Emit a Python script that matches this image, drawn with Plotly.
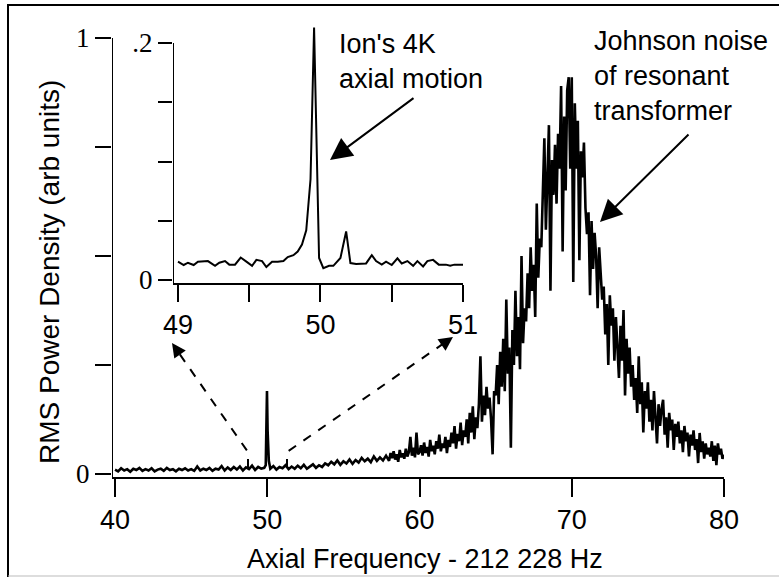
import plotly.graph_objects as go

# ---- main spectrum: low-frequency part (40 - 58 Hz) ----
lo_freq = [40.0, 40.2, 40.4, 40.6, 40.8, 41.0, 41.2, 41.4, 41.6, 41.8,
           42.0, 42.2, 42.4, 42.6, 42.8, 43.0, 43.2, 43.4, 43.6, 43.8,
           44.0, 44.2, 44.4, 44.6, 44.8, 45.0, 45.2, 45.4, 45.6, 45.8,
           46.0, 46.2, 46.4, 46.6, 46.8, 47.0, 47.2, 47.4, 47.6, 47.8,
           48.0, 48.2, 48.4, 48.6, 48.8, 49.0, 49.2, 49.4, 49.6, 49.8,
           49.9, 49.95, 49.98, 50.02, 50.06, 50.1, 50.2,
           50.4, 50.6, 50.8, 51.0, 51.2, 51.4, 51.6, 51.8,
           52.0, 52.2, 52.4, 52.6, 52.8, 53.0, 53.2, 53.4, 53.6, 53.8,
           54.0, 54.2, 54.4, 54.6, 54.8, 55.0, 55.2, 55.4, 55.6, 55.8,
           56.0, 56.2, 56.4, 56.6, 56.8, 57.0, 57.2, 57.4, 57.6, 57.8]
lo_rms = [0.010, 0.006, 0.013, 0.008, 0.011, 0.005, 0.012, 0.009, 0.014, 0.007,
          0.011, 0.008, 0.013, 0.006, 0.010, 0.012, 0.007, 0.014, 0.009, 0.011,
          0.006, 0.012, 0.009, 0.013, 0.008, 0.011, 0.007, 0.017, 0.008, 0.012,
          0.009, 0.014, 0.007, 0.012, 0.010, 0.018, 0.008, 0.015, 0.009, 0.016,
          0.010, 0.017, 0.008, 0.015, 0.011, 0.019, 0.009, 0.016, 0.012, 0.014,
          0.020, 0.090, 0.190, 0.100, 0.060, 0.030, 0.012,
          0.018, 0.010, 0.016, 0.013, 0.020, 0.011, 0.017, 0.012,
          0.019, 0.013, 0.021, 0.012, 0.018, 0.022, 0.014, 0.020, 0.016, 0.024,
          0.020, 0.028, 0.022, 0.031, 0.021, 0.029, 0.024, 0.033, 0.023, 0.032,
          0.026, 0.037, 0.029, 0.035, 0.027, 0.040, 0.030, 0.038, 0.031, 0.042]

# ---- main spectrum: resonance part (58 - 80 Hz) ----
hi_freq = [58.0, 58.1, 58.2, 58.3, 58.4, 58.5, 58.6, 58.7, 58.8, 58.9,
           59.0, 59.1, 59.2, 59.3, 59.4, 59.5, 59.6, 59.7, 59.8, 59.9,
           60.0, 60.1, 60.2, 60.3, 60.4, 60.5, 60.6, 60.7, 60.8, 60.9,
           61.0, 61.1, 61.2, 61.3, 61.4, 61.5, 61.6, 61.7, 61.8, 61.9,
           62.0, 62.1, 62.2, 62.3, 62.4, 62.5, 62.6, 62.7, 62.8, 62.9,
           63.0, 63.1, 63.2, 63.3, 63.4, 63.5, 63.6, 63.7, 63.8, 63.9,
           64.0, 64.1, 64.2, 64.3, 64.4, 64.5, 64.6, 64.7, 64.8, 64.9,
           65.0, 65.1, 65.2, 65.3, 65.4, 65.5, 65.6, 65.7, 65.8, 65.9,
           66.0, 66.1, 66.2, 66.3, 66.4, 66.5, 66.6, 66.7, 66.8, 66.9,
           67.0, 67.1, 67.2, 67.3, 67.4, 67.5, 67.6, 67.7, 67.8, 67.9,
           68.0, 68.1, 68.2, 68.3, 68.4, 68.5, 68.6, 68.7, 68.8, 68.9,
           69.0, 69.1, 69.2, 69.3, 69.4, 69.5, 69.6, 69.7, 69.8, 69.9,
           70.0, 70.1, 70.2, 70.3, 70.4, 70.5, 70.6, 70.7, 70.8, 70.9,
           71.0, 71.1, 71.2, 71.3, 71.4, 71.5, 71.6, 71.7, 71.8, 71.9,
           72.0, 72.1, 72.2, 72.3, 72.4, 72.5, 72.6, 72.7, 72.8, 72.9,
           73.0, 73.1, 73.2, 73.3, 73.4, 73.5, 73.6, 73.7, 73.8, 73.9,
           74.0, 74.1, 74.2, 74.3, 74.4, 74.5, 74.6, 74.7, 74.8, 74.9,
           75.0, 75.1, 75.2, 75.3, 75.4, 75.5, 75.6, 75.7, 75.8, 75.9,
           76.0, 76.1, 76.2, 76.3, 76.4, 76.5, 76.6, 76.7, 76.8, 76.9,
           77.0, 77.1, 77.2, 77.3, 77.4, 77.5, 77.6, 77.7, 77.8, 77.9,
           78.0, 78.1, 78.2, 78.3, 78.4, 78.5, 78.6, 78.7, 78.8, 78.9,
           79.0, 79.1, 79.2, 79.3, 79.4, 79.5, 79.6, 79.7, 79.8, 79.9,
           80.0]
hi_rms = [0.030, 0.048, 0.036, 0.052, 0.033, 0.045, 0.028, 0.055, 0.038, 0.047,
          0.035, 0.058, 0.040, 0.050, 0.085, 0.042, 0.060, 0.038, 0.095, 0.045,
          0.050, 0.066, 0.042, 0.072, 0.048, 0.062, 0.040, 0.078, 0.052, 0.065,
          0.045, 0.075, 0.058, 0.090, 0.052, 0.070, 0.060, 0.085, 0.048, 0.078,
          0.062, 0.095, 0.070, 0.110, 0.058, 0.092, 0.075, 0.118, 0.066, 0.100,
          0.085, 0.125, 0.070, 0.140, 0.095, 0.155, 0.080, 0.130, 0.105, 0.160,
          0.270, 0.120, 0.180, 0.135, 0.200, 0.150, 0.175, 0.125, 0.045, 0.190,
          0.180, 0.250, 0.160, 0.280, 0.200, 0.310, 0.190, 0.400, 0.230, 0.290,
          0.060, 0.330, 0.250, 0.420, 0.270, 0.360, 0.240, 0.500, 0.300, 0.380,
          0.350, 0.460, 0.380, 0.520, 0.420, 0.480, 0.360, 0.620, 0.450, 0.540,
          0.520, 0.680, 0.770, 0.560, 0.700, 0.800, 0.420, 0.720, 0.640, 0.755,
          0.620, 0.780, 0.700, 0.890, 0.510, 0.820, 0.650, 0.880, 0.910, 0.700,
          0.910, 0.440, 0.850, 0.700, 0.810, 0.490, 0.740, 0.680, 0.760, 0.610,
          0.550, 0.600, 0.410, 0.580, 0.470, 0.553, 0.500, 0.380, 0.520, 0.450,
          0.400, 0.430, 0.320, 0.390, 0.250, 0.410, 0.340, 0.380, 0.260, 0.360,
          0.300, 0.220, 0.340, 0.260, 0.376, 0.180, 0.310, 0.230, 0.290, 0.200,
          0.250, 0.170, 0.220, 0.140, 0.270, 0.160, 0.210, 0.095, 0.190, 0.150,
          0.210, 0.120, 0.170, 0.100, 0.190, 0.130, 0.070, 0.160, 0.110, 0.150,
          0.170, 0.090, 0.130, 0.060, 0.140, 0.100, 0.125, 0.055, 0.115, 0.085,
          0.120, 0.070, 0.100, 0.050, 0.110, 0.075, 0.095, 0.040, 0.090, 0.065,
          0.100, 0.055, 0.080, 0.025, 0.094, 0.050, 0.075, 0.035, 0.070, 0.045,
          0.060, 0.040, 0.075, 0.030, 0.065, 0.020, 0.070, 0.045, 0.058, 0.035,
          0.044]

# ---- inset: zoom on the ion peak ----
inset_freq = [49.00, 49.04, 49.07, 49.11, 49.14, 49.18, 49.21, 49.26, 49.29, 49.33,
              49.36, 49.40, 49.44, 49.48, 49.52, 49.55, 49.59, 49.62, 49.66, 49.70,
              49.74, 49.77, 49.81, 49.84, 49.87, 49.90, 49.93, 49.955, 49.99, 50.02,
              50.06, 50.09, 50.14, 50.18, 50.21, 50.25, 50.28, 50.32, 50.36, 50.39,
              50.43, 50.46, 50.50, 50.54, 50.57, 50.61, 50.65, 50.68, 50.72, 50.75,
              50.79, 50.83, 50.88, 50.91, 50.94, 51.00]
inset_rms = [0.0155, 0.0127, 0.0146, 0.0127, 0.0155, 0.0155, 0.0160, 0.0120, 0.0146, 0.0160,
             0.0130, 0.0130, 0.0190, 0.0155, 0.0120, 0.0170, 0.0160, 0.0110, 0.0155, 0.0155,
             0.0160, 0.0194, 0.0210, 0.0240, 0.0300, 0.0420, 0.0850, 0.2130, 0.0186, 0.0100,
             0.0120, 0.0120, 0.0186, 0.0410, 0.0143, 0.0135, 0.0138, 0.0140, 0.0210, 0.0160,
             0.0130, 0.0155, 0.0127, 0.0183, 0.0140, 0.0160, 0.0120, 0.0160, 0.0115, 0.0160,
             0.0170, 0.0130, 0.0130, 0.0120, 0.0130, 0.0130]

main_ticks = [40, 50, 60, 70, 80]
main_yticks = [0, 0.25, 0.5, 0.75, 1]
main_ytext = ["0", "", "", "", "1"]
inset_ticks = [49, 49.5, 50, 50.5, 51]
inset_ticktext = ["49", "", "50", "", "51"]
inset_yticks = [0, 0.05, 0.1, 0.15, 0.2]
inset_ytext = ["0", "", "", "", ".2"]

W, H = 779, 577
L, R, T, B = 112, 724, 4, 477
SANS = "Liberation Sans, Arial, sans-serif"
SERIF = "Liberation Serif, Times New Roman, serif"


def px(x):
    return (x - L) / (R - L)


def py(y):
    return (B - y) / (B - T)


fig = go.Figure()
fig.add_trace(go.Scatter(x=lo_freq + hi_freq, y=lo_rms + hi_rms, mode="lines",
                         line=dict(color="black", width=2.6), showlegend=False,
                         xaxis="x", yaxis="y"))
fig.add_trace(go.Scatter(x=inset_freq, y=inset_rms, mode="lines",
                         line=dict(color="black", width=2), showlegend=False,
                         xaxis="x2", yaxis="y2"))

axis_common = dict(showgrid=False, zeroline=False, ticks="outside", tickwidth=2,
                   tickcolor="black", linecolor="black", linewidth=2)

fig.update_layout(
    width=W, height=H,
    margin=dict(l=L, r=W - R, t=T, b=H - B),
    paper_bgcolor="white", plot_bgcolor="white",
    xaxis=dict(range=[39.8, 80.0], showline=True, ticklen=18, tickvals=main_ticks,
               tickfont=dict(family=SANS, size=27, color="black"), **axis_common),
    yaxis=dict(range=[-0.007, (B - T) / 436 - 0.007], showline=False, ticklen=16,
               tickvals=main_yticks, ticktext=main_ytext,
               tickfont=dict(family=SERIF, size=27, color="black"), **axis_common),
    xaxis2=dict(domain=[px(173), px(463)], anchor="y2", range=[48.965, 51.0], showline=True,
                ticklen=17, tickvals=inset_ticks, ticktext=inset_ticktext,
                tickfont=dict(family=SANS, size=27, color="black"), **axis_common),
    yaxis2=dict(domain=[py(283), py(19.3)], anchor="x2", range=[-0.0025, 0.22], showline=False,
                ticklen=14, tickvals=inset_yticks, ticktext=inset_ytext,
                tickfont=dict(family=SERIF, size=27, color="black"), **axis_common),
)

# axis lines that stop at the top tick
fig.add_shape(type="line", xref="x", yref="y", x0=39.8, x1=39.8, y0=-0.007, y1=1.0,
              line=dict(color="black", width=2))
fig.add_shape(type="line", xref="x2", yref="y2", x0=48.965, x1=48.965, y0=-0.0025, y1=0.2,
              line=dict(color="black", width=2))

# frame around the figure: a box whose right/bottom sides fall off the canvas
fig.add_shape(type="rect", xref="paper", yref="paper", layer="above",
              x0=px(8), x1=px(800), y0=py(600), y1=py(5),
              line=dict(color="black", width=2), fillcolor="rgba(0,0,0,0)")
fig.add_shape(type="line", xref="paper", yref="paper", x0=px(8), x1=px(779), y0=py(576), y1=py(576),
              line=dict(color="#bbbbbb", width=1))

# dashed leaders from the inset to the spectrum
fig.add_shape(type="path", xref="paper", yref="paper",
              path="M {},{} L {},{} L {},{}".format(px(248), py(468), px(248), py(452), px(174), py(346)),
              line=dict(color="black", width=2, dash="dash"))
fig.add_shape(type="path", xref="paper", yref="paper",
              path="M {},{} L {},{} L {},{}".format(px(287), py(468), px(287), py(452), px(450), py(339)),
              line=dict(color="black", width=2, dash="dash"))

annotations = [
    dict(x=px(172), y=py(343), ax=7, ay=10, text="", showarrow=True, arrowhead=2,
         arrowsize=1.4, arrowwidth=2, arrowcolor="black"),
    dict(x=px(453), y=py(337), ax=-10, ay=7, text="", showarrow=True, arrowhead=2,
         arrowsize=1.4, arrowwidth=2, arrowcolor="black"),
    dict(x=px(330), y=py(160), ax=85, ay=-63, text="", showarrow=True, arrowhead=2,
         arrowsize=2.2, arrowwidth=2, arrowcolor="black"),
    dict(x=px(600), y=py(222), ax=90, ay=-89, text="", showarrow=True, arrowhead=2,
         arrowsize=2.2, arrowwidth=2, arrowcolor="black"),
    dict(x=px(337), y=py(62), text="Ion's 4K<br>axial motion", showarrow=False,
         xanchor="left", yanchor="middle", align="left",
         font=dict(family=SANS, size=27, color="black")),
    dict(x=px(592), y=py(76), text="Johnson noise<br>of resonant<br>transformer", showarrow=False,
         xanchor="left", yanchor="middle", align="left",
         font=dict(family=SANS, size=27, color="black")),
    dict(x=px(49), y=py(272), text="RMS Power Density (arb units)", showarrow=False,
         textangle=-90, xanchor="center", yanchor="middle",
         font=dict(family=SANS, size=28, color="black")),
    dict(x=px(425), y=py(559), text="Axial Frequency - 212 228 Hz", showarrow=False,
         xanchor="center", yanchor="middle",
         font=dict(family=SANS, size=27, color="black")),
]
for a in annotations:
    a.setdefault("xref", "paper")
    a.setdefault("yref", "paper")
    fig.add_annotation(**a)

# drop the default page margin so the figure sits at the window corner
fig.write_html("out.html", config={"displayModeBar": False},
               post_script="document.body.style.margin='0';")
